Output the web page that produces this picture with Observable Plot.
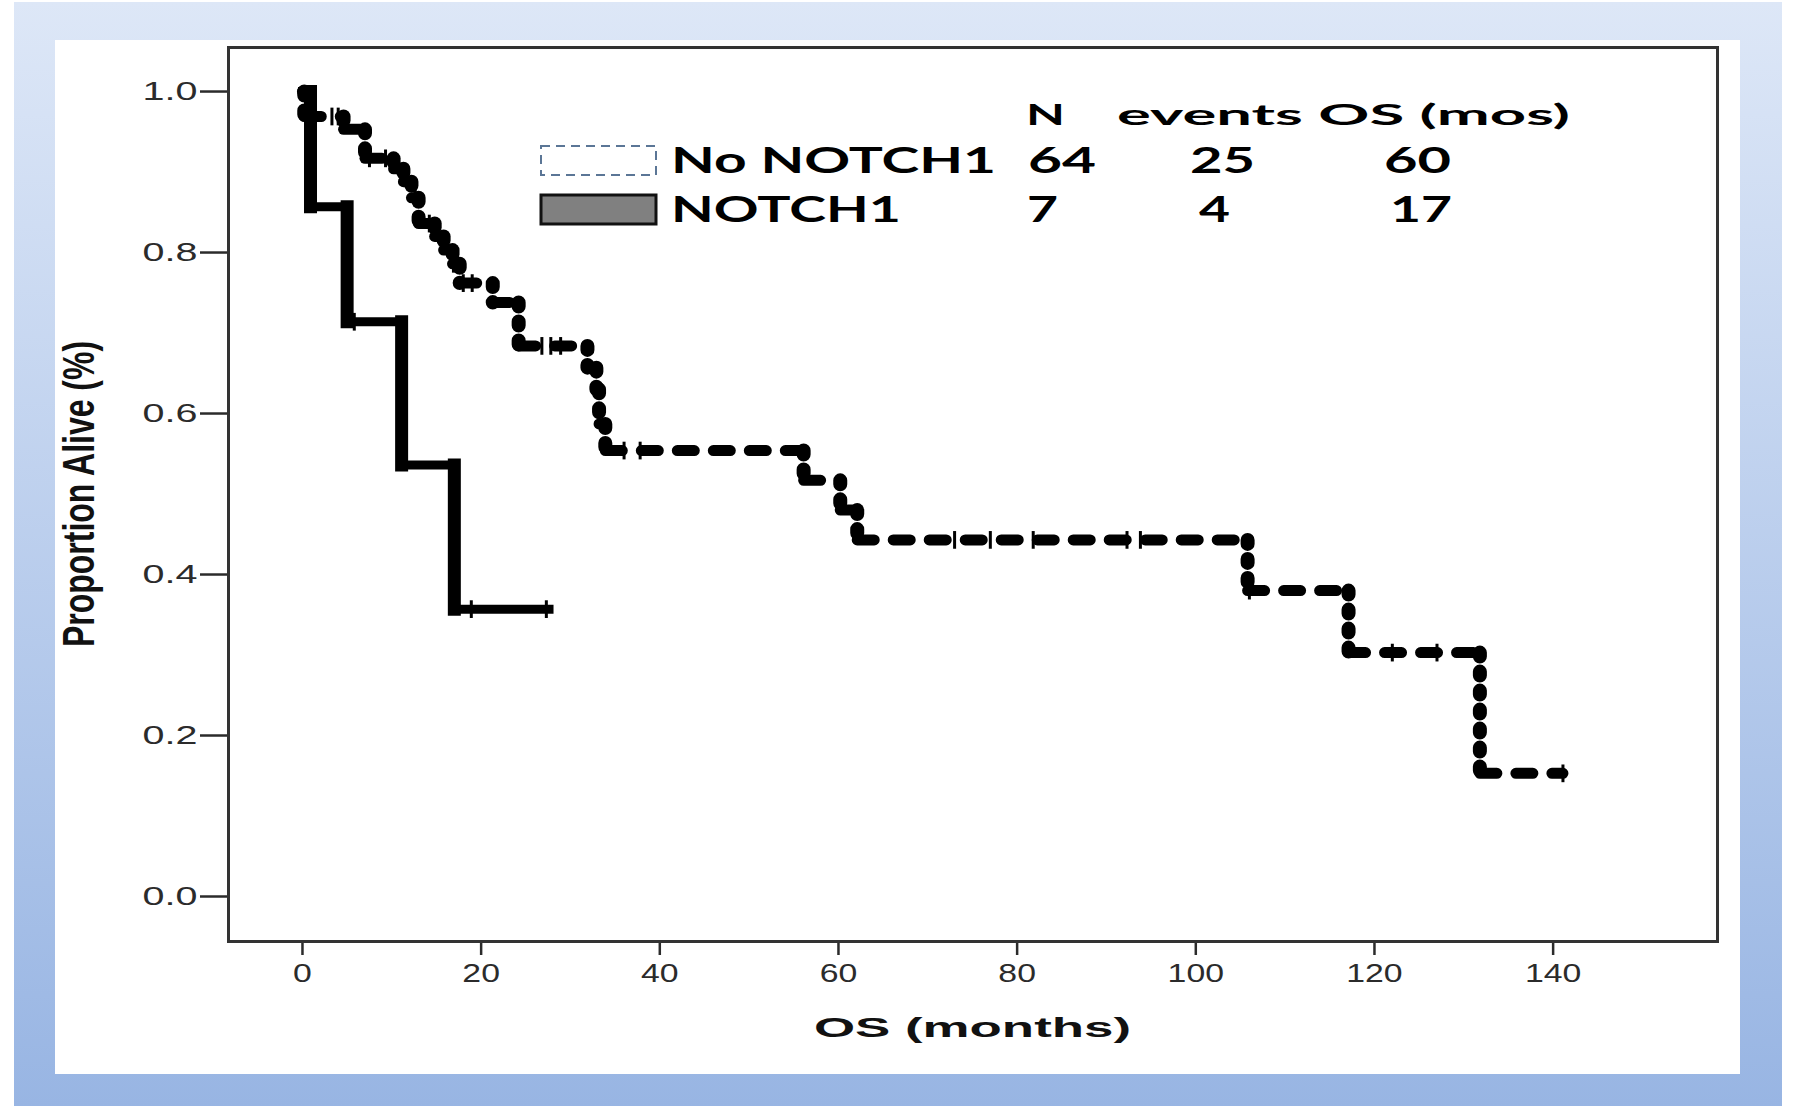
<!DOCTYPE html>
<html><head><meta charset="utf-8">
<script src="https://cdn.jsdelivr.net/npm/d3@7"></script>
<script src="https://cdn.jsdelivr.net/npm/@observablehq/plot@0.6"></script>
<style>
html,body{margin:0;padding:0;background:#fff;}
#page{position:relative;width:1800px;height:1106px;overflow:hidden;background:#fff;}
#grad{position:absolute;left:14px;top:2px;width:1768px;height:1104px;background:linear-gradient(to bottom,#dde7f7 0%,#98b5e3 100%);}
#panel{position:absolute;left:55px;top:40px;width:1685px;height:1034px;background:#fff;}
#chart{position:absolute;left:0;top:0;}
</style></head><body>
<div id="page"><div id="grad"></div><div id="panel"></div><div id="chart"></div></div>
<script>
// ---- data ----
const groups = ["No NOTCH1", "NOTCH1"];
const noNotchTimes = [0, 0.2, 4.6, 7.0, 10.2, 11.3, 12.2, 13.0, 14.8, 15.8, 16.8, 17.6, 21.3, 24.2, 31.9, 32.9, 33.2, 33.9, 56.1, 60.2, 62.1, 105.8, 117.1, 131.8];
const noNotchSurv  = [1.0, 0.969, 0.953, 0.917, 0.904, 0.888, 0.868, 0.836, 0.82, 0.803, 0.786, 0.762, 0.738, 0.684, 0.657, 0.630, 0.587, 0.554, 0.517, 0.480, 0.443, 0.380, 0.303, 0.153];
const noNotchEnd = 141.1;
const noNotchCensor = [0.5, 3.3, 4.0, 7.5, 9.3, 12.6, 14.2, 16.9, 18.0, 19.0, 26.8, 27.8, 28.9, 36.0, 37.8, 73.0, 77.0, 81.8, 92.3, 93.8, 106.0, 122.0, 127.0, 141.1];
const notchTimes = [0, 0.9, 5.0, 11.1, 17.0];
const notchSurv  = [1.0, 0.857, 0.714, 0.536, 0.357];
const notchEnd = 27.6;
const notchCensor = [5.8, 18.9, 27.3];
const legendN = [64, 7];
const legendEvents = [25, 4];
const legendOS = [60, 17];
const xTicks = [0, 20, 40, 60, 80, 100, 120, 140];
const yTicks = [0, 0.2, 0.4, 0.6, 0.8, 1.0];

// ---- derived step segments ----
function horiz(times, surv, end) {
  return times.map((t, i) => ({x1: t, x2: i + 1 < times.length ? times[i + 1] : end, y: surv[i]}));
}
function vert(times, surv) {
  return times.slice(1).map((t, i) => ({x: t, y1: surv[i], y2: surv[i + 1]}));
}
function survAt(times, surv, t) {
  let s = surv[0];
  for (let i = 0; i < times.length; i++) if (times[i] <= t) s = surv[i];
  return s;
}
const nnH = horiz(noNotchTimes, noNotchSurv, noNotchEnd);
const nnV = vert(noNotchTimes, noNotchSurv);
const nH = horiz(notchTimes, notchSurv, notchEnd);
const nV = vert(notchTimes, notchSurv);
const nnC = noNotchCensor.map(t => ({x: t, y: survAt(noNotchTimes, noNotchSurv, t)}));
const nC = notchCensor.map(t => ({x: t, y: survAt(notchTimes, notchSurv, t)}));
const cH = 0.011;

const ink = "#000";
const chart = Plot.plot({
  width: 1800, height: 1106,
  marginLeft: 228, marginTop: 47, marginRight: 83, marginBottom: 165,
  style: {background: "transparent", overflow: "visible", fontFamily: "'Liberation Sans', Arial, sans-serif"},
  x: {domain: [-8.28, 158.4]},
  y: {domain: [-0.0559, 1.0547]},
  marks: [
    Plot.axisY({ticks: yTicks, tickSize: 28, tickPadding: 3, tickFormat: d3.format(".1f"), fontSize: 25, label: null, strokeWidth: 2.5, color: "#2b2b2b"}),
    Plot.axisX({ticks: xTicks, tickSize: 14, tickPadding: 8, tickFormat: d3.format("d"), fontSize: 26, label: null, strokeWidth: 2.5, color: "#2b2b2b"}),
    // NOTCH1 solid
    Plot.link(nH, {x1: "x1", x2: "x2", y1: "y", y2: "y", stroke: ink, strokeWidth: 9, strokeLinecap: "square"}),
    Plot.link(nV, {x1: "x", x2: "x", y1: "y1", y2: "y2", stroke: ink, strokeWidth: 13, strokeLinecap: "square"}),
    Plot.link(nC, {x1: "x", x2: "x", y1: d => d.y - cH, y2: d => d.y + cH, stroke: ink, strokeWidth: 3}),
    // No NOTCH1 dashed
    Plot.link(nnH, {x1: "x1", x2: "x2", y1: "y", y2: "y", stroke: ink, strokeWidth: 11, strokeLinecap: "round", strokeDasharray: "17,19"}),
    Plot.link(nnV, {x1: "x", x2: "x", y1: "y1", y2: "y2", stroke: ink, strokeWidth: 14, strokeLinecap: "round", strokeDasharray: "4,15"}),
    Plot.link(nnC, {x1: "x", x2: "x", y1: d => d.y - cH, y2: d => d.y + cH, stroke: ink, strokeWidth: 3}),
    Plot.frame({stroke: "#333", strokeWidth: 3})
  ]
});
document.getElementById("chart").appendChild(chart);

// stretch tick labels horizontally, like the reference
function stretch(sel, s) {
  sel.each(function () {
    let t = this.getAttribute("transform") || "";
    if (this.hasAttribute("x")) {
      t += ` translate(${this.getAttribute("x")},0)`;
      this.removeAttribute("x");
    }
    this.setAttribute("transform", `${t} scale(${s},1)`);
  });
}
const svg = d3.select(chart);
stretch(svg.selectAll('g[aria-label="y-axis tick label"] text'), 1.58);
stretch(svg.selectAll('g[aria-label="x-axis tick label"] text'), 1.3);

// axis titles
svg.append("text")
  .attr("x", 814).attr("y", 1037).attr("text-anchor", "start")
  .attr("textLength", 317).attr("lengthAdjust", "spacingAndGlyphs")
  .attr("font-family", "'Liberation Sans', Arial, sans-serif").attr("font-weight", "bold")
  .attr("font-size", 27).attr("fill", "#111")
  .text("OS (months)");
svg.append("text")
  .attr("transform", "translate(82.5,494) rotate(-90) scale(1,1.37)")
  .attr("text-anchor", "middle").attr("y", "0.26em")
  .attr("font-family", "'Liberation Sans', Arial, sans-serif").attr("font-weight", "bold")
  .attr("font-size", 32).attr("fill", "#111")
  .text("Proportion Alive (%)");

// legend table
const lg = svg.append("g").attr("font-family", "Lato, 'Open Sans', sans-serif").attr("font-weight", "bold")
  .attr("fill", "#000").attr("text-anchor", "start");
lg.append("rect").attr("x", 541).attr("y", 146).attr("width", 115).attr("height", 29)
  .attr("fill", "#fff").attr("stroke", "#5b7696").attr("stroke-width", 2).attr("stroke-dasharray", "9,6");
lg.append("rect").attr("x", 541).attr("y", 195).attr("width", 115).attr("height", 29)
  .attr("fill", "#808080").attr("stroke", "#111").attr("stroke-width", 3);
function lt(str, x, y, len, size) {
  lg.append("text").attr("x", x).attr("y", y).attr("font-size", size).attr("text-anchor", "start")
    .attr("textLength", len).attr("lengthAdjust", "spacingAndGlyphs").text(str);
}
lt("N", 1026, 125, 39, 28);
lt("events OS (mos)", 1117, 125, 453, 28);
lt(groups[0], 671, 173, 325, 36);
lt(String(legendN[0]), 1028, 173, 68, 36);
lt(String(legendEvents[0]), 1190, 173, 65, 36);
lt(String(legendOS[0]), 1384, 173, 67, 36);
lt(groups[1], 671, 222, 230, 36);
lt(String(legendN[1]), 1027, 222, 31, 36);
lt(String(legendEvents[1]), 1199, 222, 31, 36);
lt(String(legendOS[1]), 1390, 222, 62, 36);
</script>
</body></html>
